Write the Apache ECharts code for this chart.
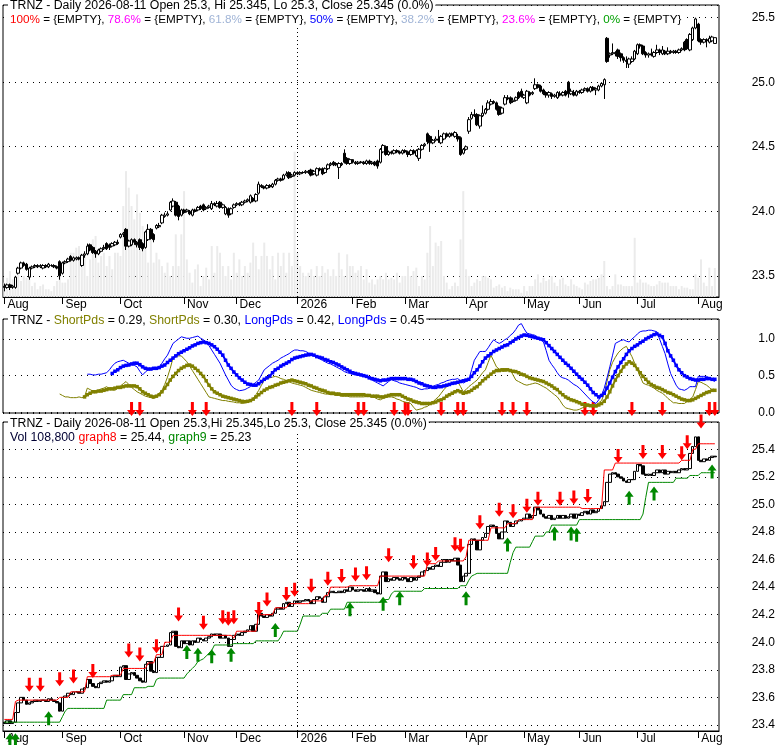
<!DOCTYPE html>
<html>
<head>
<meta charset="utf-8">
<title>TRNZ</title>
<script src="https://cdn.jsdelivr.net/npm/echarts/dist/echarts.min.js"></script>
<style>
html, body { margin: 0; padding: 0; background: #fff; }
#main { width: 780px; height: 745px; }
</style>
</head>
<body>
<div id="main"></div>
<script>
// 交易日：工作日去掉休市日
var holidays = ['2025-09-01','2025-11-27','2025-12-25','2026-01-01','2026-01-19',
                '2026-02-16','2026-04-03','2026-05-25','2026-06-19','2026-07-03'];
var monthLabels = ['2026','Feb','Mar','Apr','May','Jun','Jul','Aug','Sep','Oct','Nov','Dec'];

// 日线 OHLC
var opens = [
  23.42,23.41,23.43,23.41,23.41,23.52,23.56,23.60,23.59,23.49,23.56,23.57,23.58,23.57,23.56,23.58,23.57,23.58,23.58,23.57,23.61,
  23.52,23.60,23.61,23.65,23.62,23.63,23.64,23.58,23.66,23.67,23.74,23.72,23.69,23.67,23.69,23.71,23.75,23.74,23.73,23.74,
  23.76,23.80,23.82,23.86,23.73,23.74,23.78,23.76,23.78,23.75,23.72,23.78,23.86,23.82,23.87,23.88,23.91,23.96,23.97,24.01,24.04,24.07,24.04,
  23.97,24.01,24.00,24.00,23.97,24.01,24.01,24.04,24.05,24.02,24.03,24.02,24.06,24.04,24.07,24.03,23.98,24.02,23.98,
  24.03,24.05,24.06,24.05,24.07,24.08,24.07,24.10,24.08,24.14,24.20,24.19,24.18,24.20,24.19,24.21,24.24,24.25,24.25,24.28,24.30,24.27,
  24.28,24.30,24.29,24.30,24.30,24.31,24.32,24.29,24.28,24.33,24.33,24.30,24.33,24.36,24.38,24.37,24.34,24.37,24.45,24.41,
  24.37,24.40,24.38,24.37,24.38,24.38,24.37,24.39,24.37,24.38,24.39,24.38,24.46,24.50,24.44,24.46,24.45,24.47,24.46,24.45,
  24.47,24.46,24.44,24.47,24.43,24.41,24.48,24.51,24.60,24.58,24.53,24.55,24.56,24.53,24.56,24.60,24.58,24.60,24.58,24.58,24.57,24.45,
  24.48,24.62,24.72,24.75,24.75,24.66,24.74,24.76,24.79,24.83,24.85,24.84,24.81,24.76,24.83,24.88,24.88,24.85,24.86,24.92,24.93,
  24.88,24.84,24.92,24.91,24.95,24.98,24.97,24.94,24.92,24.90,24.91,24.89,24.88,24.91,24.90,24.93,25.00,24.91,24.92,24.90,
  24.93,24.92,24.94,24.95,24.93,24.96,24.94,24.94,24.97,24.98,25.34,25.21,25.22,25.23,25.25,25.22,25.19,25.17,25.14,25.16,25.18,
  25.22,25.29,25.28,25.23,25.21,25.22,25.20,25.23,25.25,25.22,25.24,25.22,25.24,25.23,25.24,25.23,25.25,25.31,25.33,25.25,25.33,25.42,
  25.45,25.33,25.31,25.33,25.31,25.32,25.30
];
var highs = [
  23.44,23.44,23.44,23.43,23.50,23.57,23.61,23.61,23.60,23.57,23.58,23.59,23.59,23.59,23.59,23.59,23.60,23.59,23.59,23.58,23.62,
  23.61,23.62,23.64,23.66,23.65,23.65,23.65,23.67,23.69,23.75,23.75,23.73,23.70,23.71,23.72,23.74,23.76,23.75,23.76,23.77,
  23.78,23.83,23.84,23.87,23.78,23.79,23.79,23.77,23.79,23.76,23.85,23.90,23.87,23.83,23.90,23.91,23.98,23.99,24.00,24.08,24.10,24.08,24.05,
  24.02,24.02,24.02,24.01,24.02,24.02,24.04,24.05,24.06,24.04,24.05,24.08,24.07,24.08,24.08,24.06,24.04,24.03,24.03,
  24.06,24.07,24.07,24.08,24.09,24.10,24.13,24.11,24.14,24.23,24.21,24.20,24.21,24.21,24.22,24.25,24.26,24.26,24.29,24.31,24.31,24.29,
  24.31,24.31,24.31,24.31,24.32,24.32,24.33,24.32,24.34,24.34,24.34,24.34,24.37,24.38,24.39,24.38,24.38,24.38,24.48,24.42,
  24.41,24.40,24.39,24.39,24.39,24.39,24.40,24.40,24.39,24.39,24.40,24.49,24.52,24.51,24.47,24.47,24.48,24.48,24.47,24.48,
  24.48,24.47,24.48,24.48,24.48,24.49,24.52,24.53,24.61,24.59,24.56,24.58,24.63,24.59,24.61,24.61,24.61,24.61,24.62,24.60,24.58,24.49,
  24.51,24.73,24.77,24.79,24.76,24.75,24.82,24.80,24.86,24.87,24.86,24.85,24.82,24.81,24.90,24.90,24.89,24.88,24.89,24.93,24.95,
  24.91,24.94,24.93,24.93,25.03,24.99,24.98,24.95,24.93,24.93,24.92,24.91,24.93,24.93,24.93,24.94,25.01,24.95,24.94,24.94,
  24.94,24.95,24.96,24.96,24.97,24.97,24.96,24.98,25.00,25.03,25.35,25.23,25.30,25.24,25.26,25.23,25.20,25.20,25.19,25.20,25.25,
  25.30,25.30,25.29,25.24,25.23,25.26,25.24,25.29,25.26,25.28,25.25,25.27,25.25,25.25,25.25,25.26,25.27,25.32,25.34,25.38,25.43,25.50,
  25.46,25.34,25.34,25.34,25.36,25.36,25.345
];
var lows = [
  23.38,23.40,23.39,23.40,23.40,23.51,23.55,23.57,23.54,23.47,23.55,23.56,23.56,23.56,23.55,23.56,23.56,23.57,23.56,23.55,23.47,
  23.51,23.59,23.60,23.61,23.61,23.62,23.62,23.57,23.64,23.66,23.69,23.67,23.64,23.66,23.68,23.70,23.70,23.70,23.72,23.73,
  23.74,23.79,23.80,23.70,23.72,23.73,23.74,23.72,23.70,23.69,23.71,23.77,23.78,23.76,23.86,23.87,23.90,23.95,23.96,24.00,24.03,23.96,23.93,
  23.96,23.98,23.99,23.97,23.96,23.99,24.00,24.01,24.00,24.01,24.02,24.01,24.04,24.03,24.02,24.02,23.97,23.95,23.97,
  24.02,24.04,24.04,24.04,24.06,24.07,24.06,24.07,24.07,24.13,24.18,24.17,24.17,24.18,24.18,24.20,24.23,24.23,24.24,24.27,24.25,24.26,
  24.27,24.28,24.28,24.29,24.29,24.29,24.27,24.28,24.27,24.31,24.28,24.29,24.32,24.35,24.35,24.35,24.25,24.35,24.37,24.36,
  24.36,24.37,24.36,24.36,24.37,24.36,24.36,24.36,24.36,24.35,24.33,24.37,24.45,24.43,24.43,24.44,24.44,24.45,24.44,24.44,
  24.45,24.42,24.43,24.44,24.42,24.39,24.47,24.50,24.52,24.46,24.52,24.54,24.53,24.52,24.55,24.57,24.57,24.58,24.57,24.54,24.43,24.44,
  24.47,24.60,24.71,24.73,24.66,24.64,24.73,24.75,24.78,24.82,24.83,24.78,24.74,24.75,24.82,24.86,24.83,24.84,24.85,24.87,24.88,
  24.87,24.83,24.89,24.90,24.94,24.95,24.92,24.90,24.88,24.88,24.87,24.88,24.87,24.89,24.89,24.89,24.88,24.90,24.89,24.89,
  24.91,24.91,24.93,24.92,24.92,24.93,24.90,24.93,24.96,24.87,25.15,25.19,25.21,25.20,25.18,25.16,25.15,25.11,25.11,25.15,25.17,
  25.21,25.26,25.21,25.19,25.19,25.20,25.19,25.22,25.21,25.21,25.21,25.21,25.22,25.22,25.22,25.22,25.24,25.24,25.25,25.24,25.32,25.41,
  25.31,25.29,25.30,25.27,25.30,25.31,25.30
];
var closes = [
  23.41,23.43,23.41,23.42,23.49,23.56,23.60,23.58,23.55,23.56,23.57,23.58,23.57,23.58,23.58,23.57,23.59,23.58,23.57,23.56,23.50,
  23.60,23.61,23.63,23.62,23.64,23.64,23.63,23.66,23.67,23.73,23.70,23.68,23.67,23.70,23.71,23.72,23.71,23.72,23.75,23.76,
  23.75,23.82,23.83,23.73,23.77,23.78,23.76,23.74,23.72,23.71,23.84,23.86,23.79,23.78,23.89,23.89,23.97,23.97,23.98,24.07,24.08,23.97,23.96,
  24.01,23.99,24.01,23.98,24.01,24.00,24.03,24.02,24.01,24.03,24.04,24.06,24.05,24.06,24.03,24.05,24.03,23.97,24.02,
  24.05,24.06,24.05,24.07,24.08,24.09,24.12,24.08,24.13,24.21,24.19,24.18,24.20,24.19,24.21,24.24,24.25,24.24,24.28,24.29,24.26,24.28,
  24.30,24.29,24.30,24.30,24.31,24.30,24.28,24.31,24.33,24.32,24.29,24.33,24.36,24.37,24.36,24.36,24.37,24.36,24.38,24.37,
  24.40,24.38,24.37,24.38,24.38,24.37,24.39,24.37,24.38,24.36,24.35,24.48,24.51,24.44,24.46,24.45,24.47,24.46,24.45,24.47,
  24.46,24.44,24.47,24.45,24.47,24.48,24.51,24.52,24.54,24.53,24.55,24.56,24.55,24.58,24.60,24.58,24.60,24.59,24.61,24.56,24.44,24.48,
  24.50,24.71,24.75,24.74,24.67,24.74,24.76,24.79,24.84,24.85,24.84,24.79,24.75,24.80,24.88,24.87,24.84,24.86,24.88,24.88,24.89,
  24.90,24.93,24.90,24.92,24.98,24.96,24.93,24.91,24.90,24.92,24.89,24.90,24.92,24.90,24.92,24.90,24.91,24.93,24.90,24.93,
  24.92,24.94,24.95,24.93,24.96,24.94,24.95,24.97,24.99,25.02,25.16,25.22,25.23,25.22,25.20,25.19,25.17,25.16,25.18,25.18,25.24,
  25.29,25.28,25.22,25.21,25.22,25.21,25.23,25.25,25.23,25.25,25.22,25.24,25.23,25.24,25.23,25.25,25.26,25.25,25.26,25.37,25.42,25.49,
  25.32,25.31,25.33,25.32,25.34,25.35,25.345
];
// 成交量（千股）
var volumes = [
  54,72,97,66,41,104,60,79,72,66,41,54,29,41,47,29,29,22,41,60,91,
  54,54,66,166,166,185,191,129,154,79,141,216,229,129,154,166,116,154,104,166,
  166,154,341,472,410,341,291,385,316,266,216,129,216,129,166,141,116,91,129,79,116,235,116,
  235,397,141,91,54,104,122,41,79,110,66,191,91,191,166,116,79,116,66,
  166,91,141,79,116,91,129,204,154,104,154,204,154,104,154,66,166,116,166,91,166,116,
  545,166,116,91,79,91,104,79,116,79,116,91,104,79,104,79,166,104,79,160,
  116,116,91,100,116,66,104,54,66,47,66,79,66,91,66,72,66,91,54,79,
  79,116,79,97,110,41,79,66,166,266,116,204,191,210,79,54,29,41,54,41,216,397,
  104,79,41,54,66,60,79,79,72,66,35,41,47,35,41,22,35,29,29,29,16,
  41,22,41,41,66,85,54,72,60,66,79,54,41,66,72,47,41,66,47,41,
  35,29,54,47,60,66,66,72,85,135,41,29,41,85,47,47,41,41,41,41,222,
  54,66,54,54,47,41,41,47,60,54,54,54,41,41,41,29,41,35,35,29,29,85,
  72,141,54,41,110,41,108.8
];

// 中间指标：起始交易日序号 + 数值
var shortThinStart = 20;
var shortThin = [
  0.25,0.23,0.21,0.21,0.20,0.20,0.20,0.21,0.20,0.21,
  0.33,0.31,0.29,0.28,0.30,0.32,0.33,0.35,0.32,0.31,
  0.30,0.33,0.36,0.39,0.42,0.38,0.34,0.31,0.28,0.26,
  0.24,0.22,0.21,0.20,0.19,0.22,0.26,0.30,0.38,0.48,
  0.60,0.74,0.76,0.77,0.77,0.73,0.69,0.63,0.57,0.51,
  0.45,0.39,0.33,0.27,0.21,0.20,0.19,0.18,0.17,0.16,
  0.16,0.15,0.145,0.14,0.13,0.13,0.12,0.13,0.14,0.16,
  0.19,0.24,0.30,0.37,0.44,0.46,0.47,0.48,0.49,0.48,
  0.46,0.45,0.43,0.42,0.40,0.39,0.38,0.37,0.36,0.34,
  0.32,0.30,0.29,0.28,0.27,0.26,0.25,0.25,0.24,0.24,
  0.23,0.23,0.22,0.22,0.22,0.21,0.21,0.21,0.21,
  0.21,0.21,0.22,0.22,0.22,0.20,0.18,0.17,0.19,0.20,
  0.21,0.21,0.20,0.18,0.17,0.15,0.14,0.13,0.12,0.07,
  0.03,0.04,0.05,0.07,0.08,0.11,0.14,0.18,0.21,0.26,
  0.31,0.35,0.37,0.39,0.41,0.42,0.35,0.28,0.31,0.35,
  0.38,0.41,0.44,0.49,0.54,0.58,0.68,0.78,0.70,0.62,
  0.59,0.56,0.56,0.57,0.58,0.51,0.44,0.42,0.40,0.38,
  0.37,0.38,0.39,0.40,0.39,0.37,0.35,0.33,0.30,0.27,
  0.24,0.21,0.16,0.10,0.06,0.05,0.04,0.03,0.03,0.04,
  0.06,0.07,0.08,0.09,0.10,0.10,0.13,0.16,0.25,0.42,
  0.58,0.68,0.75,0.81,0.85,0.88,0.90,0.83,0.76,0.67,
  0.58,0.49,0.40,0.38,0.37,0.35,0.33,0.30,0.28,0.26,
  0.23,0.19,0.16,0.13,0.13,0.12,0.12,0.12,0.15,0.18,
  0.21,0.31,0.42,0.41,0.39,0.37,0.34,0.30,0.29
];
var shortThickStart = 29;
var shortThick = [
  0.21,
  0.24,0.26,0.28,0.28,0.29,0.29,0.30,0.31,0.32,0.32,
  0.33,0.34,0.34,0.35,0.36,0.36,0.36,0.36,0.35,0.32,
  0.28,0.26,0.24,0.22,0.21,0.22,0.24,0.28,0.33,0.38,
  0.44,0.49,0.53,0.57,0.60,0.62,0.64,0.645,0.63,0.60,
  0.57,0.53,0.49,0.43,0.37,0.32,0.28,0.26,0.24,0.22,
  0.21,0.20,0.19,0.18,0.17,0.16,0.15,0.145,0.15,0.16,
  0.18,0.21,0.24,0.27,0.30,0.32,0.34,0.35,0.37,0.38,
  0.40,0.41,0.42,0.43,0.44,0.43,0.42,0.41,0.40,0.39,
  0.37,0.36,0.34,0.33,0.31,0.30,0.29,0.27,0.26,0.26,
  0.25,0.25,0.24,0.24,0.24,0.24,0.24,0.24,0.24,
  0.24,0.24,0.23,0.23,0.22,0.22,0.22,0.21,0.21,0.22,
  0.23,0.24,0.24,0.24,0.24,0.22,0.20,0.18,0.17,0.15,
  0.14,0.13,0.12,0.12,0.12,0.12,0.13,0.14,0.16,0.17,
  0.19,0.22,0.24,0.26,0.28,0.295,0.28,0.26,0.27,0.28,
  0.30,0.33,0.35,0.39,0.43,0.46,0.49,0.52,0.55,0.57,
  0.57,0.58,0.58,0.58,0.57,0.56,0.555,0.54,0.52,0.51,
  0.49,0.47,0.46,0.45,0.44,0.43,0.42,0.40,0.38,0.36,
  0.33,0.31,0.27,0.24,0.21,0.19,0.17,0.16,0.145,0.13,
  0.11,0.10,0.10,0.09,0.09,0.086,0.10,0.12,0.15,0.21,
  0.28,0.36,0.44,0.50,0.56,0.62,0.66,0.69,0.67,0.64,
  0.59,0.54,0.49,0.45,0.41,0.38,0.36,0.34,0.33,0.31,
  0.29,0.27,0.26,0.24,0.22,0.20,0.18,0.17,0.16,0.16,
  0.17,0.19,0.21,0.23,0.25,0.27,0.28,0.30,0.30
];
var longThinStart = 30;
var longThin = [
  0.52,0.52,0.51,0.51,0.52,0.52,0.53,0.54,0.58,0.63,
  0.67,0.69,0.70,0.71,0.69,0.67,0.65,0.64,0.62,0.56,
  0.51,0.55,0.58,0.59,0.60,0.61,0.62,0.67,0.73,0.78,
  0.86,0.94,0.97,1.00,1.03,1.02,1.01,1.01,1.02,1.03,
  1.04,1.01,0.99,0.96,0.91,0.85,0.79,0.73,0.67,0.59,
  0.51,0.44,0.37,0.33,0.31,0.295,0.30,0.31,0.33,0.35,
  0.38,0.41,0.44,0.51,0.58,0.61,0.64,0.67,0.69,0.71,
  0.74,0.76,0.78,0.80,0.83,0.85,0.85,0.84,0.84,0.83,
  0.81,0.80,0.78,0.76,0.73,0.71,0.69,0.67,0.66,0.64,
  0.62,0.60,0.58,0.555,0.54,0.53,0.52,0.51,0.505,
  0.50,0.49,0.48,0.46,0.44,0.42,0.40,0.38,0.36,0.39,
  0.42,0.45,0.43,0.42,0.40,0.39,0.38,0.37,0.36,0.35,
  0.34,0.32,0.31,0.32,0.32,0.33,0.35,0.37,0.38,0.40,
  0.41,0.43,0.44,0.45,0.45,0.46,0.43,0.40,0.42,0.44,
  0.58,0.71,0.77,0.83,0.83,0.83,0.88,0.94,0.99,0.96,
  0.94,0.96,0.99,1.01,1.05,1.08,1.13,1.19,1.21,1.14,
  1.08,1.07,1.06,1.05,1.02,0.99,0.96,0.84,0.71,0.65,
  0.60,0.54,0.49,0.47,0.46,0.44,0.41,0.38,0.36,0.33,
  0.29,0.25,0.21,0.17,0.14,0.12,0.17,0.23,0.33,0.47,
  0.62,0.78,0.94,0.96,0.98,0.99,0.97,0.96,1.00,1.03,
  1.07,1.10,1.11,1.11,1.12,1.12,1.11,1.10,1.00,0.90,
  0.80,0.66,0.53,0.45,0.37,0.32,0.31,0.30,0.32,0.35,
  0.35,0.35,0.49,0.49,0.49,0.49,0.47,0.44,0.42
];
var longThickStart = 39;
var longThick = [
  0.53,
  0.56,0.58,0.61,0.63,0.64,0.645,0.66,0.67,0.67,0.65,
  0.62,0.60,0.59,0.59,0.60,0.60,0.61,0.63,0.645,0.68,
  0.71,0.74,0.77,0.80,0.82,0.84,0.86,0.88,0.905,0.92,
  0.94,0.95,0.96,0.95,0.94,0.92,0.895,0.86,0.82,0.78,
  0.71,0.645,0.60,0.55,0.51,0.47,0.44,0.41,0.386,0.38,
  0.37,0.37,0.39,0.42,0.45,0.47,0.495,0.54,0.58,0.60,
  0.63,0.65,0.67,0.69,0.72,0.74,0.75,0.76,0.77,0.78,
  0.785,0.79,0.78,0.76,0.75,0.74,0.72,0.71,0.69,0.68,
  0.66,0.645,0.62,0.60,0.58,0.56,0.54,0.53,0.52,
  0.51,0.50,0.49,0.47,0.46,0.45,0.44,0.43,0.44,0.44,
  0.45,0.46,0.46,0.46,0.46,0.46,0.46,0.45,0.45,0.44,
  0.42,0.40,0.39,0.37,0.36,0.35,0.34,0.34,0.35,0.35,
  0.36,0.37,0.38,0.395,0.40,0.41,0.42,0.43,0.44,0.45,
  0.49,0.54,0.58,0.63,0.69,0.74,0.77,0.80,0.83,0.85,
  0.87,0.89,0.91,0.92,0.95,0.97,1.00,1.02,1.04,1.055,
  1.05,1.04,1.03,1.02,1.01,1.00,0.99,0.95,0.91,0.87,
  0.83,0.79,0.75,0.71,0.67,0.64,0.60,0.56,0.52,0.48,
  0.45,0.41,0.37,0.32,0.27,0.24,0.21,0.23,0.26,0.33,
  0.40,0.48,0.555,0.62,0.68,0.73,0.79,0.84,0.87,0.90,
  0.92,0.95,0.97,1.00,1.02,1.04,1.06,1.07,1.05,1.03,
  0.94,0.84,0.77,0.71,0.64,0.58,0.54,0.50,0.48,0.46,
  0.45,0.44,0.44,0.45,0.45,0.46,0.46,0.45,0.45
];
var midArrowDays = [46,49,68,73,104,113,128,130,141,145,146,158,164,166,180,184,189,210,213,227,238,255,257];
var midArrowLevel = -0.05;

// 下方面板：graph8（上轨）、graph9（下轨）
var graph8 = [
  23.44,23.44,23.44,23.44,23.57,23.58,23.58,23.58,23.58,23.58,
  23.58,23.58,23.58,23.58,23.58,23.58,23.58,23.58,23.58,23.58,
  23.60,23.60,23.60,23.60,23.64,23.64,23.64,23.64,23.64,23.64,
  23.75,23.75,23.75,23.75,23.75,23.75,23.75,23.75,23.75,23.76,
  23.76,23.76,23.76,23.81,23.81,23.81,23.81,23.81,23.81,23.81,
  23.81,23.81,23.85,23.85,23.85,23.91,23.91,23.91,24.00,24.00,
  24.00,24.05,24.05,24.05,24.05,24.05,24.05,24.05,24.05,24.05,
  24.05,24.05,24.05,24.05,24.05,24.05,24.05,24.05,24.05,24.05,
  24.05,24.05,24.05,24.03,24.08,24.08,24.08,24.08,24.08,24.08,
  24.08,24.08,24.20,24.20,24.20,24.20,24.20,24.20,24.25,24.25,
  24.25,24.25,24.25,24.28,24.28,24.28,24.28,24.28,24.28,24.28,
  24.28,24.30,24.30,24.30,24.30,24.30,24.34,24.34,24.40,24.40,
  24.40,24.40,24.40,24.40,24.40,24.41,24.41,24.41,24.41,24.41,
  24.41,24.41,24.41,24.41,24.41,24.41,24.48,24.48,24.48,24.48,
  24.48,24.48,24.48,24.48,24.48,24.48,24.48,24.48,24.48,24.48,
  24.48,24.48,24.48,24.57,24.57,24.57,24.57,24.59,24.59,24.59,
  24.59,24.59,24.59,24.59,24.59,24.59,24.59,24.62,24.74,24.74,
  24.74,24.74,24.74,24.74,24.74,24.74,24.83,24.83,24.83,24.83,
  24.83,24.83,24.86,24.86,24.86,24.86,24.89,24.89,24.89,24.89,
  24.89,24.89,24.98,24.98,24.98,24.98,24.98,24.98,24.98,24.98,
  24.98,24.98,24.98,24.98,24.98,24.98,24.98,24.98,24.98,24.97,
  24.97,24.97,24.97,24.97,24.97,24.97,24.97,25.25,25.25,25.25,
  25.25,25.30,25.30,25.30,25.30,25.30,25.30,25.30,25.30,25.30,
  25.30,25.30,25.30,25.30,25.30,25.30,25.30,25.30,25.30,25.30,
  25.30,25.30,25.30,25.30,25.30,25.32,25.32,25.32,25.32,25.40,
  25.40,25.44,25.44,25.44,25.44,25.44,25.44,25.44
];
var graph9 = [
  23.42,23.42,23.42,23.42,23.42,23.42,23.42,23.42,23.42,23.42,
  23.42,23.42,23.42,23.42,23.42,23.42,23.42,23.42,23.42,23.42,
  23.42,23.46,23.50,23.52,23.52,23.52,23.52,23.52,23.52,23.52,
  23.52,23.52,23.52,23.52,23.52,23.52,23.52,23.58,23.58,23.58,
  23.58,23.58,23.58,23.62,23.62,23.62,23.62,23.67,23.67,23.67,
  23.67,23.67,23.68,23.68,23.68,23.73,23.74,23.74,23.74,23.74,
  23.74,23.74,23.74,23.74,23.74,23.74,23.77,23.79,23.81,23.83,
  23.86,23.87,23.88,23.90,23.92,23.94,23.98,23.98,23.98,23.98,
  23.98,23.98,23.98,23.99,23.99,23.99,23.99,23.99,23.99,23.99,
  23.99,24.01,24.01,24.01,24.01,24.01,24.01,24.01,24.01,24.01,
  24.04,24.08,24.08,24.08,24.08,24.08,24.08,24.13,24.19,24.19,
  24.19,24.19,24.19,24.19,24.19,24.21,24.21,24.21,24.24,24.24,
  24.24,24.24,24.24,24.24,24.29,24.29,24.29,24.29,24.29,24.29,
  24.29,24.29,24.29,24.29,24.29,24.29,24.29,24.31,24.31,24.31,
  24.35,24.37,24.37,24.37,24.37,24.37,24.37,24.37,24.37,24.37,
  24.37,24.37,24.39,24.39,24.39,24.39,24.39,24.39,24.39,24.39,
  24.39,24.39,24.39,24.39,24.39,24.41,24.41,24.41,24.45,24.48,
  24.49,24.50,24.50,24.50,24.50,24.50,24.50,24.50,24.50,24.50,
  24.50,24.50,24.50,24.58,24.65,24.69,24.69,24.69,24.69,24.69,
  24.69,24.73,24.77,24.77,24.77,24.77,24.80,24.80,24.85,24.85,
  24.85,24.85,24.85,24.85,24.85,24.85,24.85,24.85,24.89,24.89,
  24.89,24.89,24.89,24.89,24.89,24.89,24.89,24.89,24.89,24.89,
  24.89,24.89,24.89,24.89,24.89,24.89,24.89,24.89,24.89,24.89,
  24.89,24.93,25.05,25.16,25.16,25.16,25.16,25.16,25.16,25.16,
  25.16,25.16,25.16,25.19,25.19,25.19,25.19,25.19,25.21,25.21,
  25.21,25.21,25.23,25.23,25.23,25.23,25.23,25.23
];
// 箭头：交易日序号 + 尖端价格
var sellDays = [9,13,20,25,32,45,49,55,63,72,79,81,83,92,95,102,105,111,117,122,127,131,139,148,153,
                156,163,165,172,179,184,189,193,201,206,211,222,231,238,245,247,252];
var sellTips = [23.64,23.64,23.68,23.70,23.74,23.89,23.86,23.92,24.15,24.09,24.13,24.12,24.13,24.19,24.26,
                24.30,24.33,24.36,24.41,24.43,24.44,24.45,24.58,24.53,24.55,24.59,24.66,24.65,24.82,24.91,
                24.90,24.94,24.99,24.99,25.00,25.01,25.30,25.33,25.33,25.32,25.40,25.55];
var buyDays = [2,4,16,66,70,75,82,98,125,137,143,167,182,199,205,207,226,235,256];
var buyTips = [23.34,23.34,23.50,23.98,23.96,23.95,23.96,24.14,24.29,24.33,24.37,24.37,24.76,24.84,
               24.84,24.83,25.10,25.13,25.29];

var FONT = '"Liberation Sans", Arial, sans-serif';
var OLIVE = '#808000', BLUE = '#0000ff', RED = '#ff0000', GREEN = '#008800';
var downArrow = 'path://M3,0 L6,0 L6,8 L9,8 L4.5,14 L0,8 L3,8 Z';
var upArrow = 'path://M4.5,0 L9,6 L6,6 L6,14 L3,14 L3,6 L0,6 Z';

var dates = [];
for (var d = new Date(Date.UTC(2025, 7, 1)); d <= new Date(Date.UTC(2026, 7, 11)); d.setUTCDate(d.getUTCDate() + 1)) {
    var s = d.toISOString().slice(0, 10);
    if (d.getUTCDay() === 0 || d.getUTCDay() === 6 || holidays.indexOf(s) >= 0) continue;
    dates.push(s);
}
dates.push('');

function isMonthStart(i) {
    if (!dates[i]) return false;
    return i === 0 || dates[i].slice(5, 7) !== dates[i - 1].slice(5, 7);
}
function monthName(v) {
    return v ? monthLabels[(+v.slice(5, 7)) - 1] : '';
}
function pad(start, vals) {
    var out = [];
    for (var i = 0; i < start; i++) out.push(null);
    return out.concat(vals);
}
var yearIdx = dates.indexOf('2026-01-02');

var ohlc = opens.map(function (o, i) { return [o, closes[i], lows[i], highs[i]]; });
var steps = closes.map(function (c, i) {
    var p = i ? closes[i - 1] : opens[0];
    return [p, c, Math.min(p, c), Math.max(p, c)];
});

function rich(color, size) { return { color: color, fontFamily: FONT, fontSize: size || 12.3, lineHeight: 14 }; }
function titleBox(top, text, extra, size) {
    return {
        left: 8, top: top, text: text, padding: [1, 2], backgroundColor: '#fff',
        textStyle: { fontFamily: FONT, fontSize: size || 12.3, fontWeight: 'normal', color: '#000', lineHeight: 14, rich: extra || {} }
    };
}
var grids = [
    { left: 3, top: 5, width: 716, height: 292 },
    { left: 3, top: 319, width: 716, height: 94 },
    { left: 3, top: 422, width: 716, height: 309 }
];
grids.forEach(function (g) {
    g.show = true; g.borderColor = '#000'; g.borderWidth = 1; g.backgroundColor = '#fff';
    g.containLabel = false; g.outerBoundsMode = 'none';
});

function monthAxis(gi, labels) {
    return {
        type: 'category', gridIndex: gi, data: dates, boundaryGap: true,
        axisLine: { show: labels, lineStyle: { color: '#000', width: 1 } },
        axisTick: { show: labels, alignWithLabel: true, length: 7, interval: isMonthStart, lineStyle: { color: '#000' } },
        axisLabel: {
            show: labels, interval: isMonthStart, formatter: monthName, align: 'left', margin: 2,
            padding: [0, 0, 0, 3], color: '#000', fontFamily: FONT, fontSize: 12
        },
        splitLine: { show: false }
    };
}
function valueAxis(gi, min, max, step, splitNumber) {
    return {
        type: 'value', gridIndex: gi, position: 'right', min: min, max: max,
        splitNumber: splitNumber, minInterval: step, maxInterval: step,
        axisLine: { show: false }, axisTick: { show: false },
        axisLabel: {
            align: 'right', margin: 56, color: '#000', fontFamily: FONT, fontSize: 12,
            showMinLabel: false, showMaxLabel: false,
            formatter: function (v) { return v.toFixed(1); }
        },
        splitLine: { show: true, lineStyle: { color: '#000', width: 1, type: [1, 5] } }
    };
}
var yearLine = {
    silent: true, symbol: ['none', 'none'], label: { show: false }, animation: false,
    lineStyle: { color: '#000', width: 1, type: [1, 3] },
    data: [{ xAxis: dates[yearIdx] }]
};
function arrowSeries(xi, yi, days, tips, path, color, offset) {
    return {
        type: 'scatter', xAxisIndex: xi, yAxisIndex: yi, clip: false, silent: true,
        symbol: path, symbolSize: [9, 14], symbolOffset: [0, offset],
        itemStyle: { color: color, opacity: 1 },
        data: days.map(function (d, k) { return [d, tips instanceof Array ? tips[k] : tips]; })
    };
}

var myChart = echarts.init(document.getElementById('main'));
var option = {
    animation: false,
    backgroundColor: '#fff',
    title: [
        titleBox(-2, 'TRNZ - Daily 2026-08-11 Open 25.3, Hi 25.345, Lo 25.3, Close 25.345 (0.0%)'),
        titleBox(12, '{r|100%} = {EMPTY}, {m|78.6%} = {EMPTY}, {g|61.8%} = {EMPTY}, {b|50%} = {EMPTY}, {g|38.2%} = {EMPTY}, {m|23.6%} = {EMPTY}, {n|0%} = {EMPTY}',
            { r: rich(RED, 11.7), m: rich('#ff00ff', 11.7), g: rich('#a0b4d6', 11.7), b: rich(BLUE, 11.7), n: rich('#00a000', 11.7) }, 11.7),
        titleBox(313, 'TRNZ - {o|ShortPds} = 0.29, {o|ShortPds} = 0.30, {b|LongPds} = 0.42, {b|LongPds} = 0.45',
            { o: rich(OLIVE), b: rich(BLUE) }),
        titleBox(416, 'TRNZ - Daily 2026-08-11 Open 25.3,Hi 25.345,Lo 25.3, Close 25.345 (0.0%)'),
        titleBox(430, '{v|Vol 108,800} {r|graph8} = 25.44, {g|graph9} = 25.23',
            { v: rich('#000033'), r: rich(RED), g: rich(GREEN) })
    ],
    grid: grids,
    xAxis: [monthAxis(0, true), monthAxis(1, false), monthAxis(2, true)],
    yAxis: [
        valueAxis(0, 23.336, 25.598, 0.5, 5),
        { type: 'value', gridIndex: 0, min: 0, max: 1095, show: false, splitLine: { show: false } },
        valueAxis(1, -0.0095, 1.273, 0.5, 3),
        valueAxis(2, 23.356, 25.598, 0.2, 11)
    ],
    series: [
        {
            name: 'Volume', type: 'bar', xAxisIndex: 0, yAxisIndex: 1, data: volumes,
            barWidth: 2, silent: true, itemStyle: { color: '#ebebeb' }, markLine: yearLine
        },
        {
            name: 'Price', type: 'candlestick', xAxisIndex: 0, yAxisIndex: 0, data: ohlc, barWidth: 3,
            itemStyle: { color: '#fff', color0: '#000', borderColor: '#000', borderColor0: '#000', borderWidth: 1 }
        },
        {
            name: 'ShortPds', type: 'line', xAxisIndex: 1, yAxisIndex: 2, data: pad(shortThinStart, shortThin),
            showSymbol: false, lineStyle: { color: OLIVE, width: 1 }, itemStyle: { color: OLIVE }
        },
        {
            name: 'LongPds', type: 'line', xAxisIndex: 1, yAxisIndex: 2, data: pad(longThinStart, longThin),
            showSymbol: false, lineStyle: { color: BLUE, width: 1 }, itemStyle: { color: BLUE }
        },
        {
            name: 'ShortPds2', type: 'line', xAxisIndex: 1, yAxisIndex: 2, data: pad(shortThickStart, shortThick),
            symbol: 'rect', symbolSize: 3.5, showSymbol: true, showAllSymbol: true,
            lineStyle: { color: OLIVE, width: 2 }, itemStyle: { color: OLIVE }
        },
        {
            name: 'LongPds2', type: 'line', xAxisIndex: 1, yAxisIndex: 2, data: pad(longThickStart, longThick),
            symbol: 'rect', symbolSize: 3.5, showSymbol: true, showAllSymbol: true,
            lineStyle: { color: BLUE, width: 2 }, itemStyle: { color: BLUE }
        },
        arrowSeries(1, 2, midArrowDays, midArrowLevel, downArrow, RED, '-50%'),
        {
            name: 'Steps', type: 'candlestick', xAxisIndex: 2, yAxisIndex: 3, data: steps, barWidth: 3,
            itemStyle: { color: '#fff', color0: '#000', borderColor: '#000', borderColor0: '#000', borderWidth: 1 }
        },
        {
            name: 'graph8', type: 'line', xAxisIndex: 2, yAxisIndex: 3, data: graph8, showSymbol: false,
            lineStyle: { color: RED, width: 1 }, itemStyle: { color: RED }, markLine: yearLine
        },
        {
            name: 'graph9', type: 'line', xAxisIndex: 2, yAxisIndex: 3, data: graph9, showSymbol: false,
            lineStyle: { color: GREEN, width: 1 }, itemStyle: { color: GREEN }
        },
        arrowSeries(2, 3, sellDays, sellTips, downArrow, RED, '-50%'),
        arrowSeries(2, 3, buyDays, buyTips, upArrow, GREEN, '50%')
    ]
};
myChart.setOption(option);
</script>
</body>
</html>
